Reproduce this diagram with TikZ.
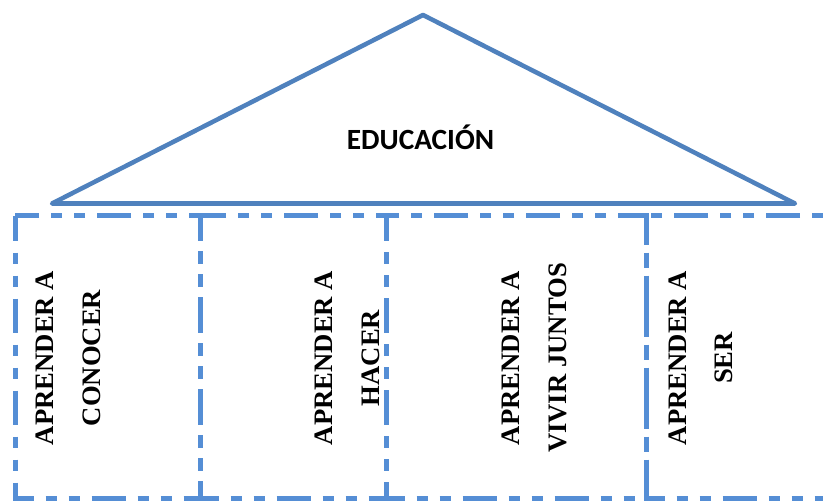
\documentclass[tikz,border=0pt]{standalone}
\usepackage{fontspec}
\setmainfont{Liberation Serif}[BoldFont={Liberation Serif Bold}]
\newfontfamily\carlito{Carlito}[BoldFont={Carlito Bold}]
\definecolor{roofblue}{HTML}{4F81BD}
\definecolor{pillarblue}{HTML}{558ED5}
\tikzset{
  pillar/.style={draw=pillarblue,line width=3.75pt,
    dash pattern=on 25.5pt off 9pt on 8.25pt off 9pt on 8.25pt off 9pt,dash phase=6.75pt},
  lbl/.style={rotate=90,anchor=base,inner sep=0pt,font=\bfseries\fontsize{20}{24}\selectfont}
}
\begin{document}
\begin{tikzpicture}[x=0.75pt,y=-0.75pt]
  \useasboundingbox (0,0) rectangle (823,500);
  % roof
  \draw[roofblue,line width=3.4pt,line join=round] (52,203.5) -- (423,15) -- (795,203.5) -- cycle;
  \node[font=\carlito\bfseries\fontsize{22}{26}\selectfont,anchor=base,inner sep=0pt] (e) at (420.5,149) {EDUCACIÓN};
  % pillars
  \draw[pillar] (15,215.5) rectangle (200,498);
  \draw[pillar] (200,215.5) rectangle (386,498);
  \draw[pillar] (386,215.5) rectangle (646,498);
  \draw[pillar] (646,215.5) rectangle (850,498);
  \node[lbl] (c1) at (53,358) {APRENDER A};
  \node[lbl] (c2) at (100,358) {CONOCER};
  \node[lbl] (c3) at (332,358) {APRENDER A};
  \node[lbl] (c4) at (379,358) {HACER};
  \node[lbl] (c5) at (519,358) {APRENDER A};
  \node[lbl] (c6) at (566,358) {VIVIR JUNTOS};
  \node[lbl] (c7) at (686,358) {APRENDER A};
  \node[lbl] (c8) at (732,358) {SER};
\end{tikzpicture}
\end{document}
